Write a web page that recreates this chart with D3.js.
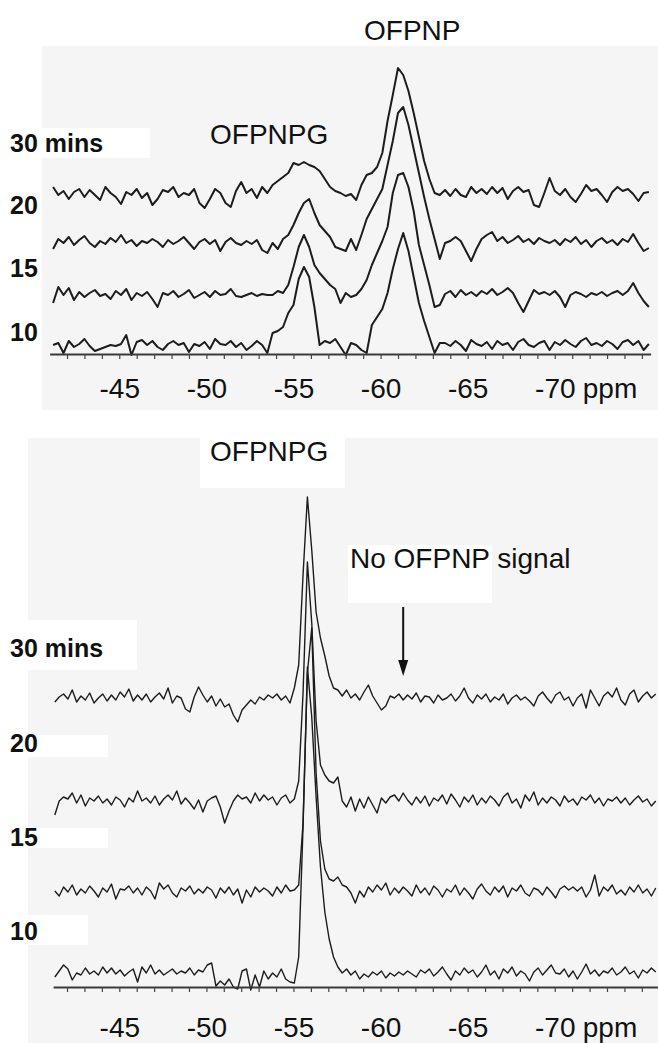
<!DOCTYPE html>
<html><head><meta charset="utf-8">
<script src="https://cdn.jsdelivr.net/npm/d3@7"></script>
<style>
body{margin:0;background:#fff}
svg{display:block}
</style>
</head><body>
<svg id="c" width="658" height="1043"></svg>
<script>
// ---------------- DATA ----------------
const timeLabels = ["10", "15", "20", "30 mins"];
const majorTicks = [-45, -50, -55, -60, -65, -70];
const unitLabel = "ppm";
const topPeakLabels = ["OFPNP", "OFPNPG"];
const bottomPeakLabel = "OFPNPG";
const noSignalLabel = "No OFPNP signal";
const noSignalPpm = -61.3;

// top panel spectra: intensity sampled every 0.3 ppm from -41.2 ppm
const topStartPpm = -41.2, topStepPpm = 0.3;
const top10 = [2,4,-6,6,0,3,8,1,-4,-2, 0,2,1,3,12,-8,5,7,2,6, 0,-3,3,6,2,4,-5,3,1,5, -2,8,3,2,6,0,4,-3,1,6,
  2,-6,14,16,20,34,42,68,80,70, 40,2,6,4,8,0,-8,4,2,-3, -6,22,30,38,54,78,98,114,96,70, 44,26,10,-6,4,4,1,6,2,-4,
  7,3,1,5,-2,6,2,4,-3,5, 8,2,0,4,6,-3,5,2,7,3, 0,6,9,2,4,1,6,3,-2,5, 7,2,6,-3,3];
const top15 = [-6,10,2,9,-3,5,0,4,7,1, 3,-2,6,2,8,-3,4,1,5,-2, -10,4,2,6,0,3,7,-1,2,5, 0,6,2,3,8,1,0,2,4,1,
  3,2,2,6,4,12,30,50,62,50, 32,24,18,12,8,-6,4,0,2,8, 17,32,44,56,70,104,122,124,110,86, 52,32,12,-10,-8,3,6,0,7,2,
  5,1,6,3,8,2,5,9,4,-6, -15,-4,7,3,5,2,6,0,-10,2, 5,3,0,4,2,5,1,4,6,2, 6,14,4,-4,-10];
const top20 = [-4,6,2,8,0,5,9,2,-2,4, 1,7,3,10,2,5,-1,4,2,6, 3,-2,5,1,4,8,2,-4,3,6, 1,5,-6,3,7,2,0,4,1,5,
  -5,-8,2,-4,6,10,20,32,42,46, 32,20,14,8,-2,-4,-6,6,-5,10, 26,36,46,56,80,104,132,138,120,96, 72,48,26,6,-14,2,4,8,4,-6,
  -16,-4,6,10,13,4,8,2,5,9, 3,6,1,7,4,2,5,0,6,3, 8,1,5,-2,4,7,2,5,0,6, 3,11,2,-6,-3];
const top30 = [8,0,4,-4,3,6,-2,5,0,-5, 8,2,-2,-9,3,0,6,-3,2,-10, -4,5,3,8,-2,2,0,6,-8,-13, -4,6,2,-8,-12,4,13,2,6,-3,
  8,2,10,14,18,22,32,30,33,30, 28,24,16,8,4,2,-1,1,-5,10, 20,22,28,42,74,100,127,120,104,82, 58,34,16,2,0,5,-1,6,0,-2,
  8,2,6,1,8,2,7,-4,4,8, 3,5,-10,-12,2,17,4,0,6,-2, -7,1,10,4,6,0,-7,3,8,4, 6,1,-6,2,3];

// bottom panel spectra: intensity sampled every 0.25 ppm from -41.3 ppm
const botStartPpm = -41.3, botStepPpm = 0.25;
const bot10 = [0,6,12,8,-3,4,2,9,3,6, 2,10,4,9,3,7,1,5,8,-5, 10,4,12,3,7,2,5,8,3,6, 4,9,2,7,5,12,14,-9,-4,-8,
  -2,-10,-12,6,8,-13,2,-10,6,-2, 4,0,8,-2,-5,-6,20,150,310,260, 180,110,65,38,20,10,4,8,2,6, -2,3,0,5,2,6,-1,4,1,5,
  2,6,3,0,7,4,8,1,5,10, 3,-3,6,2,9,4,7,0,5,12, 2,6,-2,8,4,10,1,6,3,-4, 5,9,2,7,12,4,3,8,0,6,
  -2,5,13,3,7,1,6,4,9,2, 5,10,3,6,-1,7,4,9,5];
const bot15 = [2,-3,6,1,8,-2,4,0,7,2, -4,5,1,9,-6,4,3,7,0,5, -2,6,2,-6,10,4,8,0,-4,5, 2,7,-1,4,0,6,3,-5,5,0,
  6,-2,4,-10,3,-4,6,1,5,2, -3,6,0,8,2,3,8,70,220,265, 120,52,24,14,12,16,8,6,0,-10, 2,-4,6,1,8,3,10,-2,5,0,
  6,2,-3,8,0,5,-2,7,3,-4, 4,1,8,-2,5,0,-6,4,9,2, -2,6,1,7,-4,5,2,8,0,-3, 5,3,-2,6,1,-5,4,7,3,6,
  2,6,-4,3,18,-3,6,2,8,-1, 3,-2,6,1,8,0,4,-3,5];
const bot20 = [-12,2,6,4,10,0,8,-3,5,2, 7,0,4,-2,6,3,-4,5,1,12, 2,5,0,7,-2,4,8,3,12,-1, 5,0,-6,3,-9,2,5,7,-4,-20,
  -8,2,8,4,6,0,10,2,8,3, 6,-2,5,8,0,4,22,110,241,180, 82,38,28,22,20,26,2,-4,6,-8, 4,-5,6,-2,-10,5,0,6,8,2,
  10,3,-2,6,0,7,-3,5,2,8, -1,9,3,-4,6,1,8,-2,5,0, 7,3,-3,6,10,0,4,-5,8,2, 11,-2,5,0,6,3,-3,7,1,4,
  -2,6,3,8,0,5,-3,4,2,6, 0,5,-2,3,7,1,4,-3,2];
const bot30 = [-2,3,6,1,10,-2,4,0,7,-3, 2,6,-1,5,0,8,3,11,-1,5, 0,6,-2,3,7,1,12,-3,4,2, -9,-12,3,13,5,-2,4,-6,1,-7,
  -4,-15,-22,-10,-5,0,-4,3,0,5, 2,6,0,4,-3,12,35,125,203,150, 88,62,44,24,12,10,4,10,2,6, 0,8,15,4,-3,-10,-6,4,2,6,
  0,5,1,7,-2,4,3,-3,5,0, 2,6,-1,4,12,2,-3,5,1,6, -2,3,0,6,-4,2,5,0,3,-1, -6,4,8,2,-3,5,8,0,3,-6,
  2,6,-8,10,2,-6,4,8,3,12, 0,-5,6,10,-2,4,8,2,6];

// ---------------- DRAWING ----------------
const FONT = "'Liberation Sans', Arial, Helvetica, sans-serif";
const svg = d3.select("#c");

// scanned-figure backdrop
svg.append("rect").attr("x", 42).attr("y", 46).attr("width", 616).attr("height", 364).attr("fill", "#f5f5f5");
svg.append("rect").attr("x", 28).attr("y", 438).attr("width", 630).attr("height", 605).attr("fill", "#f5f5f5");
[[0,128,150,30],[200,438,145,50],[348,545,144,58],[0,620,137,50],[0,735,108,22],[0,828,108,20],[0,915,88,30]]
  .forEach(r => svg.append("rect").attr("x", r[0]).attr("y", r[1]).attr("width", r[2]).attr("height", r[3]).attr("fill", "#fff"));

function drawPanel(cfg) {
  const x = d3.scaleLinear().domain(cfg.domain).range(cfg.range);
  const y = d3.scaleLinear().domain([0, 400]).range([cfg.axisY, cfg.axisY - 400]);
  const g = svg.append("g");

  cfg.traces.forEach((vals, k) => {
    const line = d3.line()
      .x((d, i) => x(cfg.start - cfg.step * i))
      .y(d => y(d + cfg.offsets[k]));
    g.append("path").datum(vals).attr("d", line)
      .attr("fill", "none").attr("stroke", "#1c1c1c")
      .attr("stroke-width", cfg.sw).attr("stroke-linejoin", "round");
  });

  // minor ticks every 1 ppm
  const minor = d3.range(-42, cfg.domain[1] - 0.001, -1);
  const ax = d3.axisBottom(x).tickValues(minor).tickSize(5).tickSizeOuter(0).tickFormat("");
  const axG = g.append("g").attr("transform", `translate(0,${cfg.axisY})`).call(ax);
  axG.select(".domain").attr("stroke", "#3a3a3a").attr("stroke-width", 2);
  axG.selectAll(".tick line").attr("stroke", "#444").attr("stroke-width", 1.2);

  // tick labels
  const lab = d3.axisBottom(x).tickValues(majorTicks).tickSize(0).tickFormat(d => String(d));
  const lg = g.append("g").attr("transform", `translate(0,${cfg.axisY})`).call(lab);
  lg.select(".domain").remove();
  lg.attr("font-family", null).attr("font-size", null);
  lg.selectAll("text").attr("y", cfg.labelDy).attr("dy", 0)
    .attr("font-family", FONT).attr("font-size", 28).attr("fill", "#111");
  g.append("text").attr("x", x(-70) + 28).attr("y", cfg.axisY + cfg.labelDy)
    .attr("font-family", FONT).attr("font-size", 28).attr("fill", "#111").text(unitLabel);

  // time labels
  timeLabels.forEach((t, k) => {
    g.append("text").attr("x", 10).attr("y", cfg.timeY[k])
      .attr("font-family", FONT).attr("font-size", 25).attr("font-weight", "bold")
      .attr("fill", "#111").text(t);
  });
  return x;
}

// top panel
drawPanel({
  domain: [-41, -75.5], range: [49.6, 650.6], axisY: 354, labelDy: 44,
  start: topStartPpm, step: topStepPpm, sw: 2,
  traces: [top10, top15, top20, top30], offsets: [7, 57, 109, 159],
  timeY: [341, 277, 214, 152]
});
svg.append("text").attr("x", 364).attr("y", 40).attr("font-family", FONT).attr("font-size", 28).attr("fill", "#111").text(topPeakLabels[0]);
svg.append("text").attr("x", 210).attr("y", 144).attr("font-family", FONT).attr("font-size", 28).attr("fill", "#111").text(topPeakLabels[1]);

// bottom panel
const xb = drawPanel({
  domain: [-41.2, -75.9], range: [53.1, 657.5], axisY: 987, labelDy: 50,
  start: botStartPpm, step: botStepPpm, sw: 1.4,
  traces: [bot10, bot15, bot20, bot30], offsets: [10, 94, 184, 287],
  timeY: [940, 846, 752, 657]
});
svg.append("text").attr("x", 210).attr("y", 461).attr("font-family", FONT).attr("font-size", 28).attr("fill", "#111").text(bottomPeakLabel);
svg.append("text").attr("x", 350).attr("y", 568).attr("font-family", FONT).attr("font-size", 28).attr("fill", "#111").text(noSignalLabel);

// arrow
const ax0 = xb(noSignalPpm);
svg.append("line").attr("x1", ax0).attr("x2", ax0).attr("y1", 607).attr("y2", 662)
  .attr("stroke", "#111").attr("stroke-width", 2);
svg.append("path").attr("d", `M${ax0 - 5},660 L${ax0 + 5},660 L${ax0},676 Z`).attr("fill", "#111");
</script>
</body></html>
